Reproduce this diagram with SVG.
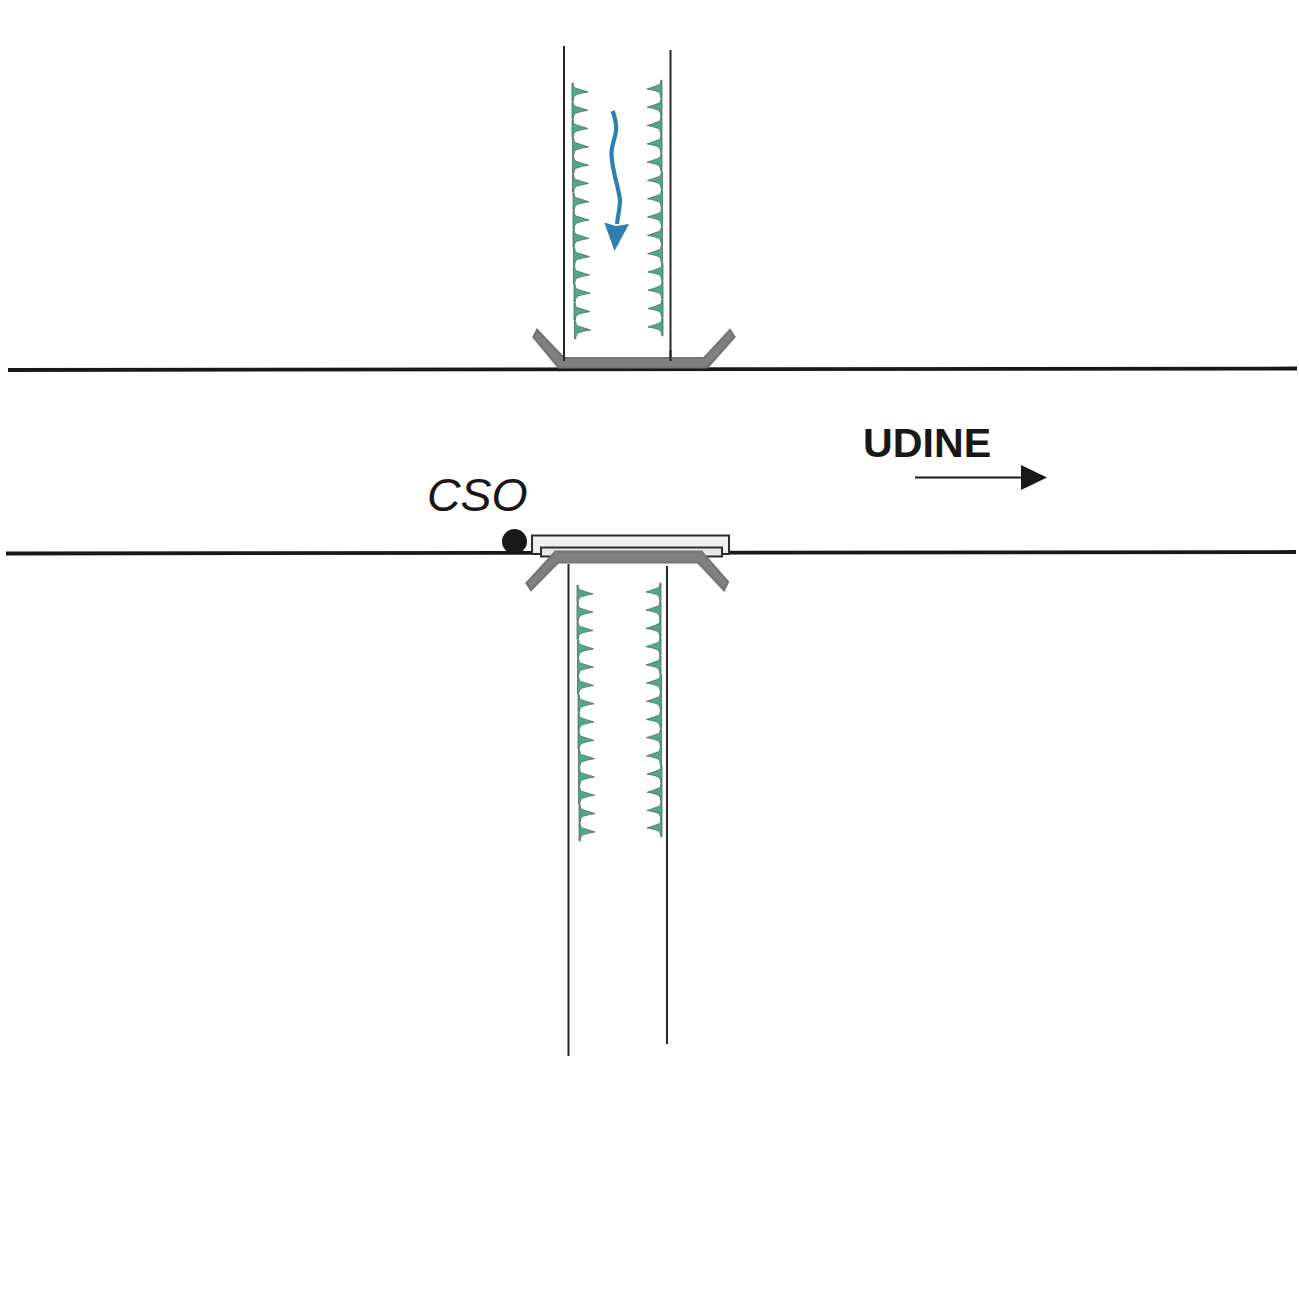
<svg xmlns="http://www.w3.org/2000/svg" xmlns:xlink="http://www.w3.org/1999/xlink" width="1299" height="1299" viewBox="0 0 1299 1299">
<style>
.road{stroke:#1a1717;stroke-width:3.8;fill:none}
.wall{stroke:#2b2727;stroke-width:2;fill:none}
.grey{fill:#808080;stroke:#747474;stroke-width:2.2}
.plate{stroke:#2f2c2c;stroke-width:2}
.t{fill:#1a1717;font-family:"Liberation Sans",Arial,sans-serif}
</style>
<defs>
<path id="tl" d="M0,-8.8 L1.2,-8.8 C1.4,-5.5 2,-4.4 4,-3.8 C8,-2.6 12,-1.2 16,0 C12,0.6 8,1.4 4.500,2.600 C2.400,3.400 1.600,5 1.200,8.800 L0,8.800 Z" fill="#4fa988" stroke="#4a6a62" stroke-width="0.8"/>
<path id="tr" d="M0,-8.8 L-1.2,-8.8 C-1.4,-5.5 -2,-4.4 -4,-3.8 C-7.5,-2.6 -11,-1.2 -15,0 C-11,0.6 -7.500,1.400 -4.500,2.600 C-2.400,3.400 -1.600,5 -1.200,8.800 L0,8.800 Z" fill="#4fa988" stroke="#4a6a62" stroke-width="0.8"/>
</defs>
<rect width="1299" height="1299" fill="#fff"/>
<g id="roads">
<line class="road" x1="8" y1="370" x2="1297" y2="368.5"/>
<line class="road" x1="6" y1="553.5" x2="1296" y2="552"/>
</g>
<g id="north-street">
<line class="wall" x1="564" y1="46" x2="564" y2="362"/>
<line class="wall" x1="670.5" y1="50" x2="670.5" y2="362"/>
</g>
<g id="south-street">
<line class="wall" x1="568.5" y1="564" x2="568.5" y2="1056"/>
<line class="wall" x1="667" y1="566" x2="667" y2="1044"/>
</g>
<g id="north-junction">
<polygon class="grey" points="537,330 533.500,337 558.500,367.500 707.500,367.500 734.500,337 730,330 704,358 564,358"/>
<line class="wall" x1="564" y1="350" x2="564" y2="361"/>
<line class="wall" x1="670.500" y1="350" x2="670.500" y2="361"/>
</g>
<g id="south-junction">
<rect class="plate" x="532" y="535.500" width="197" height="18.500" fill="#f0f0f0"/>
<rect class="plate" x="541" y="547.500" width="181" height="9" fill="#e6e6e6"/>
<polygon class="grey" points="555.500,551.500 701.500,551.500 728,582 724,590 698,562.500 558,562.500 531,590 526.500,583"/>
</g>
<g id="cso">
<circle cx="514.500" cy="541.500" r="12.500" fill="#1a1717"/>
<text class="t" x="427" y="511" font-size="46.500" font-style="italic">CSO</text>
</g>
<g id="udine">
<text class="t" x="863" y="457" font-size="41.200" font-weight="bold">UDINE</text>
<line x1="915" y1="477.500" x2="1025" y2="477.500" stroke="#1a1717" stroke-width="1.800"/>
<polygon points="1021,465 1047,477.500 1021,490" fill="#1a1717"/>
</g>
<g id="flow-arrow">
<path d="M612.700,111 C615,118 617,125 616,131 C615,139 611,146 611.500,155 C612,170 618,185 620,200 C620,208 618,215 617,224" fill="none" stroke="#2f7fb0" stroke-width="4.200"/>
<polygon points="604.300,222.500 616,226 629,224 614.500,251" fill="#2f7fb0"/>
</g>
<g id="trees-north-west">
<use xlink:href="#tl" href="#tl" x="572" y="92"/><use xlink:href="#tl" href="#tl" x="572" y="110.300"/><use xlink:href="#tl" href="#tl" x="572" y="128.600"/><use xlink:href="#tl" href="#tl" x="572.500" y="146.900"/><use xlink:href="#tl" href="#tl" x="572.500" y="165.200"/><use xlink:href="#tl" href="#tl" x="572.500" y="183.500"/><use xlink:href="#tl" href="#tl" x="573" y="201.800"/><use xlink:href="#tl" href="#tl" x="573" y="220.100"/><use xlink:href="#tl" href="#tl" x="573" y="238.400"/><use xlink:href="#tl" href="#tl" x="573.500" y="256.700"/><use xlink:href="#tl" href="#tl" x="573.500" y="275"/><use xlink:href="#tl" href="#tl" x="574" y="293.300"/><use xlink:href="#tl" href="#tl" x="574" y="311.600"/><use xlink:href="#tl" href="#tl" x="574.500" y="330"/>
</g>
<g id="trees-north-east">
<use xlink:href="#tr" href="#tr" x="662" y="89"/><use xlink:href="#tr" href="#tr" x="662" y="107.300"/><use xlink:href="#tr" href="#tr" x="662" y="125.600"/><use xlink:href="#tr" href="#tr" x="662" y="143.900"/><use xlink:href="#tr" href="#tr" x="662" y="162.200"/><use xlink:href="#tr" href="#tr" x="662.500" y="180.500"/><use xlink:href="#tr" href="#tr" x="662.500" y="198.800"/><use xlink:href="#tr" href="#tr" x="662.500" y="217.100"/><use xlink:href="#tr" href="#tr" x="662.500" y="235.400"/><use xlink:href="#tr" href="#tr" x="662.500" y="253.700"/><use xlink:href="#tr" href="#tr" x="663" y="272"/><use xlink:href="#tr" href="#tr" x="663" y="290.300"/><use xlink:href="#tr" href="#tr" x="663" y="308.600"/><use xlink:href="#tr" href="#tr" x="663" y="327"/>
</g>
<g id="trees-south-west">
<use xlink:href="#tl" href="#tl" x="577" y="594"/><use xlink:href="#tl" href="#tl" x="577" y="612.300"/><use xlink:href="#tl" href="#tl" x="577" y="630.600"/><use xlink:href="#tl" href="#tl" x="577.500" y="648.900"/><use xlink:href="#tl" href="#tl" x="577.500" y="667.200"/><use xlink:href="#tl" href="#tl" x="577.500" y="685.500"/><use xlink:href="#tl" href="#tl" x="578" y="703.800"/><use xlink:href="#tl" href="#tl" x="578" y="722.100"/><use xlink:href="#tl" href="#tl" x="578" y="740.400"/><use xlink:href="#tl" href="#tl" x="578.500" y="758.700"/><use xlink:href="#tl" href="#tl" x="578.500" y="777"/><use xlink:href="#tl" href="#tl" x="578.500" y="795.300"/><use xlink:href="#tl" href="#tl" x="579" y="813.600"/><use xlink:href="#tl" href="#tl" x="579" y="832"/>
</g>
<g id="trees-south-east">
<use xlink:href="#tr" href="#tr" x="661" y="592"/><use xlink:href="#tr" href="#tr" x="661" y="610.200"/><use xlink:href="#tr" href="#tr" x="661" y="628.400"/><use xlink:href="#tr" href="#tr" x="661" y="646.700"/><use xlink:href="#tr" href="#tr" x="661" y="664.900"/><use xlink:href="#tr" href="#tr" x="661.500" y="683.100"/><use xlink:href="#tr" href="#tr" x="661.500" y="701.300"/><use xlink:href="#tr" href="#tr" x="661.500" y="719.500"/><use xlink:href="#tr" href="#tr" x="661.500" y="737.700"/><use xlink:href="#tr" href="#tr" x="661.500" y="755.900"/><use xlink:href="#tr" href="#tr" x="662" y="774.100"/><use xlink:href="#tr" href="#tr" x="662" y="792.300"/><use xlink:href="#tr" href="#tr" x="662" y="810.500"/><use xlink:href="#tr" href="#tr" x="662" y="828"/>
</g>
</svg>
